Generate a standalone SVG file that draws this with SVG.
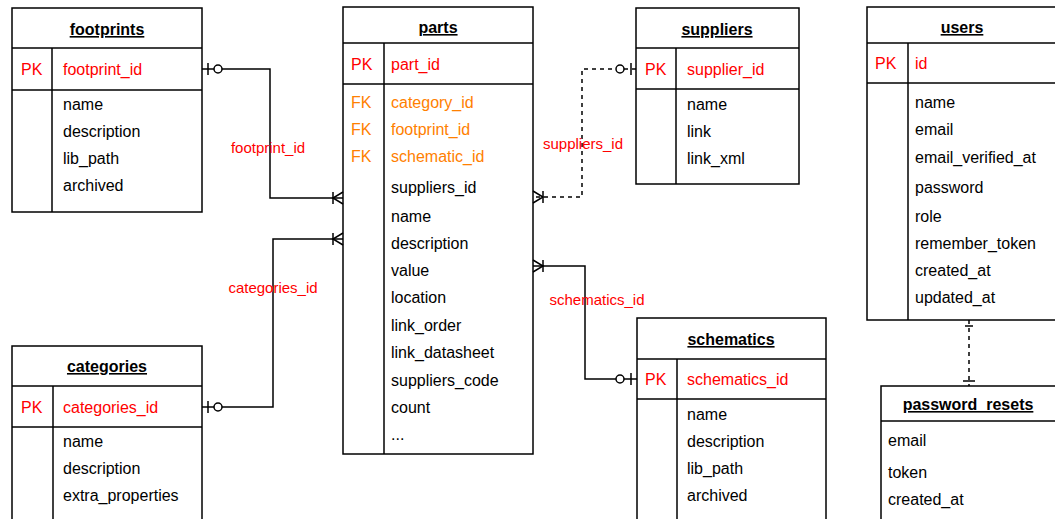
<svg xmlns="http://www.w3.org/2000/svg" width="1055" height="519" viewBox="0 0 1055 519">
  <style>
    .box { fill: #ffffff; stroke: #000000; stroke-width: 1.5; }
    .ln { stroke: #000000; stroke-width: 1.5; fill: none; }
    .title { font-family: "Liberation Sans", Arial, sans-serif; font-size: 16px; font-weight: bold; text-decoration: underline; fill: #000000; text-anchor: middle; }
    .f { font-family: "Liberation Sans", Arial, sans-serif; font-size: 16px; fill: #000000; }
    .pk { fill: #ff0000; }
    .fk { fill: #ff8000; }
    .lbl { font-family: "Liberation Sans", Arial, sans-serif; font-size: 15px; fill: #ff0000; text-anchor: middle; }
    .conn { stroke: #000000; stroke-width: 1.5; fill: none; }
    .dash { stroke-dasharray: 4 4; }
    .ring { fill: #ffffff; stroke: #000000; stroke-width: 1.5; }
  </style>

  <!-- footprints -->
  <g id="footprints">
    <rect class="box" x="12" y="8" width="190" height="204"/>
    <line class="ln" x1="12" y1="48" x2="202" y2="48"/>
    <line class="ln" x1="12" y1="90" x2="202" y2="90"/>
    <line class="ln" x1="52" y1="48" x2="52" y2="212"/>
    <text class="title" x="107" y="35">footprints</text>
    <text class="f pk" x="21" y="75">PK</text>
    <text class="f pk" x="63" y="75">footprint_id</text>
    <text class="f" x="63" y="110">name</text>
    <text class="f" x="63" y="137">description</text>
    <text class="f" x="63" y="164">lib_path</text>
    <text class="f" x="63" y="191">archived</text>
  </g>

  <!-- parts -->
  <g id="parts">
    <rect class="box" x="343" y="7" width="190" height="447"/>
    <line class="ln" x1="343" y1="43" x2="533" y2="43"/>
    <line class="ln" x1="343" y1="84" x2="533" y2="84"/>
    <line class="ln" x1="384" y1="43" x2="384" y2="454"/>
    <text class="title" x="438" y="33">parts</text>
    <text class="f pk" x="351" y="70">PK</text>
    <text class="f pk" x="391" y="70">part_id</text>
    <text class="f fk" x="351" y="108">FK</text>
    <text class="f fk" x="391" y="108">category_id</text>
    <text class="f fk" x="351" y="135">FK</text>
    <text class="f fk" x="391" y="135">footprint_id</text>
    <text class="f fk" x="351" y="162">FK</text>
    <text class="f fk" x="391" y="162">schematic_id</text>
    <text class="f" x="391" y="193">suppliers_id</text>
    <text class="f" x="391" y="222">name</text>
    <text class="f" x="391" y="249">description</text>
    <text class="f" x="391" y="276">value</text>
    <text class="f" x="391" y="303">location</text>
    <text class="f" x="391" y="331">link_order</text>
    <text class="f" x="391" y="358">link_datasheet</text>
    <text class="f" x="391" y="386">suppliers_code</text>
    <text class="f" x="391" y="413">count</text>
    <text class="f" x="391" y="440">...</text>
  </g>

  <!-- suppliers -->
  <g id="suppliers">
    <rect class="box" x="636" y="8" width="163" height="176"/>
    <line class="ln" x1="636" y1="48" x2="799" y2="48"/>
    <line class="ln" x1="636" y1="89" x2="799" y2="89"/>
    <line class="ln" x1="676" y1="48" x2="676" y2="184"/>
    <text class="title" x="717" y="35">suppliers</text>
    <text class="f pk" x="645" y="75">PK</text>
    <text class="f pk" x="687" y="75">supplier_id</text>
    <text class="f" x="687" y="110">name</text>
    <text class="f" x="687" y="137">link</text>
    <text class="f" x="687" y="164">link_xml</text>
  </g>

  <!-- users -->
  <g id="users">
    <rect class="box" x="867" y="7" width="190" height="313"/>
    <line class="ln" x1="867" y1="43" x2="1057" y2="43"/>
    <line class="ln" x1="867" y1="83" x2="1057" y2="83"/>
    <line class="ln" x1="908" y1="43" x2="908" y2="320"/>
    <text class="title" x="962" y="33">users</text>
    <text class="f pk" x="875" y="69">PK</text>
    <text class="f pk" x="915" y="69">id</text>
    <text class="f" x="915" y="108">name</text>
    <text class="f" x="915" y="135">email</text>
    <text class="f" x="915" y="163">email_verified_at</text>
    <text class="f" x="915" y="193">password</text>
    <text class="f" x="915" y="222">role</text>
    <text class="f" x="915" y="249">remember_token</text>
    <text class="f" x="915" y="276">created_at</text>
    <text class="f" x="915" y="303">updated_at</text>
  </g>

  <!-- categories -->
  <g id="categories">
    <rect class="box" x="12" y="346" width="190" height="190"/>
    <line class="ln" x1="12" y1="386" x2="202" y2="386"/>
    <line class="ln" x1="12" y1="427" x2="202" y2="427"/>
    <line class="ln" x1="53" y1="386" x2="53" y2="536"/>
    <text class="title" x="107" y="372">categories</text>
    <text class="f pk" x="21" y="413">PK</text>
    <text class="f pk" x="63" y="413">categories_id</text>
    <text class="f" x="63" y="447">name</text>
    <text class="f" x="63" y="474">description</text>
    <text class="f" x="63" y="501">extra_properties</text>
  </g>

  <!-- schematics -->
  <g id="schematics">
    <rect class="box" x="637" y="318" width="189" height="220"/>
    <line class="ln" x1="637" y1="359" x2="826" y2="359"/>
    <line class="ln" x1="637" y1="399" x2="826" y2="399"/>
    <line class="ln" x1="677" y1="359" x2="677" y2="538"/>
    <text class="title" x="731" y="345">schematics</text>
    <text class="f pk" x="645" y="385">PK</text>
    <text class="f pk" x="687" y="385">schematics_id</text>
    <text class="f" x="687" y="420">name</text>
    <text class="f" x="687" y="447">description</text>
    <text class="f" x="687" y="474">lib_path</text>
    <text class="f" x="687" y="501">archived</text>
  </g>

  <!-- password_resets -->
  <g id="password_resets">
    <rect class="box" x="881" y="386" width="190" height="150"/>
    <line class="ln" x1="881" y1="421" x2="1071" y2="421"/>
    <text class="title" x="968" y="410">password_resets</text>
    <text class="f" x="888" y="446">email</text>
    <text class="f" x="888" y="478">token</text>
    <text class="f" x="888" y="505">created_at</text>
  </g>

  <!-- relationships -->
  <g id="connectors">
    <!-- footprints 1 : n parts -->
    <polyline class="conn" points="202,69 270,69 270,198 343,198"/>
    <line class="conn" x1="208" y1="63" x2="208" y2="75"/>
    <circle class="ring" cx="218" cy="69" r="4"/>
    <line class="conn" x1="333" y1="192" x2="333" y2="204"/>
    <polyline class="conn" points="343,192 333,198 343,204"/>
    <text class="lbl" x="268" y="153">footprint_id</text>

    <!-- categories 1 : n parts -->
    <polyline class="conn" points="202,407 273,407 273,239 343,239"/>
    <line class="conn" x1="208" y1="401" x2="208" y2="413"/>
    <circle class="ring" cx="218" cy="407" r="4"/>
    <line class="conn" x1="333" y1="233" x2="333" y2="245"/>
    <polyline class="conn" points="343,233 333,239 343,245"/>
    <text class="lbl" x="273" y="293">categories_id</text>

    <!-- suppliers 1 : n parts -->
    <polyline class="conn dash" points="636,69 582,69 582,197 533,197"/>
    <line class="conn" x1="631" y1="63" x2="631" y2="75"/>
    <circle class="ring" cx="620" cy="69" r="4"/>
    <line class="conn" x1="543" y1="191" x2="543" y2="203"/>
    <polyline class="conn" points="533,191 543,197 533,203"/>
    <text class="lbl" x="583" y="149">suppliers_id</text>

    <!-- schematics 1 : n parts -->
    <polyline class="conn" points="533,266 585,266 585,379 637,379"/>
    <line class="conn" x1="543" y1="260" x2="543" y2="272"/>
    <polyline class="conn" points="533,260 543,266 533,272"/>
    <line class="conn" x1="631" y1="373" x2="631" y2="385"/>
    <circle class="ring" cx="620" cy="379" r="4"/>
    <text class="lbl" x="597" y="305">schematics_id</text>

    <!-- users 1 : 1 password_resets -->
    <line class="conn dash" x1="969" y1="320" x2="969" y2="386"/>
    <line class="conn" x1="965" y1="326" x2="973" y2="326"/>
    <line class="conn" x1="963" y1="381" x2="975" y2="381"/>
  </g>
</svg>
